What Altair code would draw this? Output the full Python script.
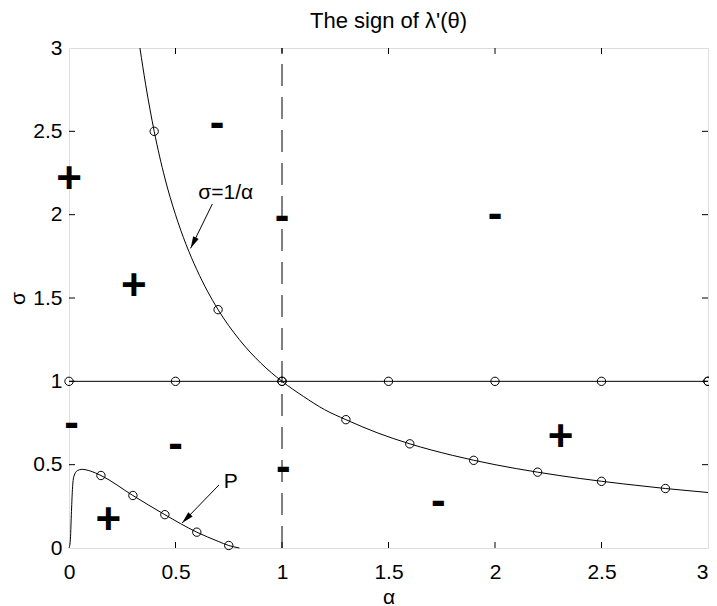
import math
import altair as alt
import pandas as pd

FONT = "Liberation Sans"
W, H = 639, 500

tick_values = [0, 0.5, 1, 1.5, 2, 2.5, 3]
inner_ticks = [0.5, 1, 1.5, 2, 2.5]

# hyperbola sigma = 1/alpha
hyp_alpha = [0.333, 0.36, 0.4, 0.45, 0.5, 0.55, 0.6, 0.7, 0.8, 0.9, 1.0, 1.1, 1.2, 1.3,
             1.45, 1.6, 1.8, 2.0, 2.2, 2.4, 2.6, 2.8, 3.0]
hyp_sigma = [3.0, 2.78, 2.5, 2.22, 2.0, 1.82, 1.67, 1.43, 1.25, 1.11, 1.0, 0.91, 0.83, 0.77,
             0.69, 0.625, 0.556, 0.5, 0.455, 0.417, 0.385, 0.357, 0.333]
hyp_mark_alpha = [0.4, 0.7, 1.0, 1.3, 1.6, 1.9, 2.2, 2.5, 2.8]
hyp_mark_sigma = [2.5, 1.43, 1.0, 0.77, 0.625, 0.526, 0.455, 0.4, 0.357]

# horizontal line sigma = 1
one_alpha = [0, 0.5, 1, 1.5, 2, 2.5, 3, 3]
one_sigma = [1, 1, 1, 1, 1, 1, 1, 1]

# curve P
p_alpha = [0.0, 0.006, 0.011, 0.016, 0.023, 0.039, 0.06, 0.1, 0.15, 0.3, 0.45, 0.6, 0.7, 0.75, 0.8]
p_sigma = [0.0, 0.04, 0.2, 0.35, 0.43, 0.464, 0.472, 0.462, 0.435, 0.315, 0.2, 0.095, 0.04, 0.015, 0.0]
p_mark_alpha = [0.15, 0.3, 0.45, 0.6, 0.75]
p_mark_sigma = [0.435, 0.315, 0.2, 0.095, 0.015]

# dashed vertical alpha = 1
dash_alpha = [1, 1]
dash_sigma = [0, 3]

# sign labels
plus_alpha = [0.0, 0.305, 0.185, 2.308]
plus_sigma = [2.22, 1.58, 0.172, 0.672]
minus_alpha = [0.695, 1.0, 2.0, 0.012, 0.5, 1.006, 1.734]
minus_sigma = [2.54, 1.98, 1.99, 0.738, 0.612, 0.472, 0.272]

# annotations
ann_text = ["σ=1/α", "P"]
ann_alpha = [0.736, 0.759]
ann_sigma = [2.128, 0.398]
arrow_start_alpha = [0.673, 0.704]
arrow_start_sigma = [2.064, 0.378]
arrow_tip_alpha = [0.571, 0.531]
arrow_tip_sigma = [1.798, 0.150]

title_text = "The sign of λ'(θ)"

xs = alt.Scale(domain=[0, 3], nice=False, zero=False)
ys = alt.Scale(domain=[0, 3], nice=False, zero=False)

x_axis = alt.Axis(values=tick_values, format="~g", domain=False, ticks=False, grid=False,
                  labelFontSize=21, labelFont=FONT, labelColor="black", labelPadding=13,
                  labelFlush=False, labelOverlap=False,
                  labelAlign={"condition": {"test": "datum.value >= 3", "value": "right"},
                              "value": "center"},
                  title="α", titleFont=FONT, titleFontSize=21, titleFontWeight="normal",
                  titleColor="black", titleX=W / 2, titleY=49, titleAlign="center",
                  titleBaseline="middle")
y_axis = alt.Axis(values=tick_values, format="~g", domain=False, ticks=False, grid=False,
                  labelFontSize=21, labelFont=FONT, labelColor="black", labelPadding=7,
                  labelFlush=False, labelOverlap=False,
                  title="σ", titleFont=FONT, titleFontSize=21, titleFontWeight="normal",
                  titleColor="black", titleX=-51, titleY=H / 2, titleAngle=270,
                  titleAlign="center", titleBaseline="middle")

X = lambda: alt.X("a:Q", scale=xs, axis=x_axis)
Y = lambda: alt.Y("s:Q", scale=ys, axis=y_axis)

hyp_line = alt.Chart(pd.DataFrame({"a": hyp_alpha, "s": hyp_sigma})).mark_line(
    color="black", strokeWidth=1, interpolate="monotone", clip=True
).encode(x=X(), y=Y())

hyp_pts = alt.Chart(pd.DataFrame({"a": hyp_mark_alpha, "s": hyp_mark_sigma})).mark_point(
    shape="circle", filled=False, color="black", size=70, strokeWidth=1, opacity=1
).encode(x="a:Q", y="s:Q")

one_line = alt.Chart(pd.DataFrame({"a": one_alpha, "s": one_sigma})).mark_line(
    color="black", strokeWidth=1
).encode(x="a:Q", y="s:Q")
one_pts = alt.Chart(pd.DataFrame({"a": one_alpha, "s": one_sigma})).mark_point(
    shape="circle", filled=False, color="black", size=70, strokeWidth=1, opacity=1
).encode(x="a:Q", y="s:Q")

p_line = alt.Chart(pd.DataFrame({"a": p_alpha, "s": p_sigma})).mark_line(
    color="black", strokeWidth=1, interpolate="monotone"
).encode(x="a:Q", y="s:Q")
p_pts = alt.Chart(pd.DataFrame({"a": p_mark_alpha, "s": p_mark_sigma})).mark_point(
    shape="circle", filled=False, color="black", size=70, strokeWidth=1, opacity=1
).encode(x="a:Q", y="s:Q")

dash_line = alt.Chart(pd.DataFrame({"a": dash_alpha, "s": dash_sigma})).mark_line(
    color="black", strokeWidth=1, strokeDash=[22, 11]
).encode(x="a:Q", y="s:Q")

plus_txt = alt.Chart(pd.DataFrame({"a": plus_alpha, "s": plus_sigma, "t": ["+"] * len(plus_alpha)})).mark_text(
    font=FONT, fontSize=44, fontWeight="bold", color="black", align="center", baseline="middle", dy=2
).encode(x="a:Q", y="s:Q", text="t:N")
minus_txt = alt.Chart(pd.DataFrame({"a": minus_alpha, "s": minus_sigma, "t": ["-"] * len(minus_alpha)})).mark_text(
    font=FONT, fontSize=44, fontWeight="bold", color="black", align="center", baseline="middle", dy=-1
).encode(x="a:Q", y="s:Q", text="t:N")

ann_txt = alt.Chart(pd.DataFrame({"a": ann_alpha, "s": ann_sigma, "t": ann_text})).mark_text(
    font=FONT, fontSize=21, color="black", align="center", baseline="middle"
).encode(x="a:Q", y="s:Q", text="t:N")

arrow_df = pd.DataFrame({"a": arrow_start_alpha, "s": arrow_start_sigma,
                         "a2": arrow_tip_alpha, "s2": arrow_tip_sigma})
arrow_lines = alt.Chart(arrow_df).mark_rule(color="black", strokeWidth=1).encode(
    x="a:Q", y="s:Q", x2="a2:Q", y2="s2:Q")

head_layers = []
for a0, s0, a1, s1 in zip(arrow_start_alpha, arrow_start_sigma, arrow_tip_alpha, arrow_tip_sigma):
    dx = (a1 - a0) * W / 3
    dy = -(s1 - s0) * H / 3
    ang = math.degrees(math.atan2(dx, -dy)) % 360
    head_layers.append(
        alt.Chart(pd.DataFrame({"a": [a1], "s": [s1]})).mark_point(
            shape="M0,0L0.5,2L-0.5,2Z", filled=True, color="black", size=144,
            angle=ang, opacity=1, strokeWidth=0
        ).encode(x="a:Q", y="s:Q")
    )

tick_df = pd.DataFrame({"v": inner_ticks})
tick_bottom = alt.Chart(tick_df).mark_rule(color="black", strokeWidth=1).encode(
    x="v:Q", y=alt.value(H), y2=alt.value(H - 6))
tick_top = alt.Chart(tick_df).mark_rule(color="black", strokeWidth=1).encode(
    x="v:Q", y=alt.value(0), y2=alt.value(6))
tick_left = alt.Chart(tick_df).mark_rule(color="black", strokeWidth=1).encode(
    y="v:Q", x=alt.value(0), x2=alt.value(6))
tick_right = alt.Chart(tick_df).mark_rule(color="black", strokeWidth=1).encode(
    y="v:Q", x=alt.value(W), x2=alt.value(W - 6))

title_mark = alt.Chart(pd.DataFrame({"t": [title_text]})).mark_text(
    font=FONT, fontSize=22, color="black", align="center", baseline="alphabetic"
).encode(x=alt.value(W / 2), y=alt.value(-20), text="t:N")

chart = alt.layer(
    hyp_line, hyp_pts, one_line, one_pts, p_line, p_pts, dash_line,
    tick_bottom, tick_top, tick_left, tick_right,
    arrow_lines, *head_layers, ann_txt, plus_txt, minus_txt, title_mark
).properties(
    width=W, height=H,
    autosize=alt.AutoSizeParams(type="none"),
    padding={"left": 61, "top": 40, "right": 1, "bottom": 58},
).configure_view(
    stroke="black", strokeWidth=1.5
).configure(background="white")

chart.save("out.html", embed_options={"renderer": "svg", "actions": False})
